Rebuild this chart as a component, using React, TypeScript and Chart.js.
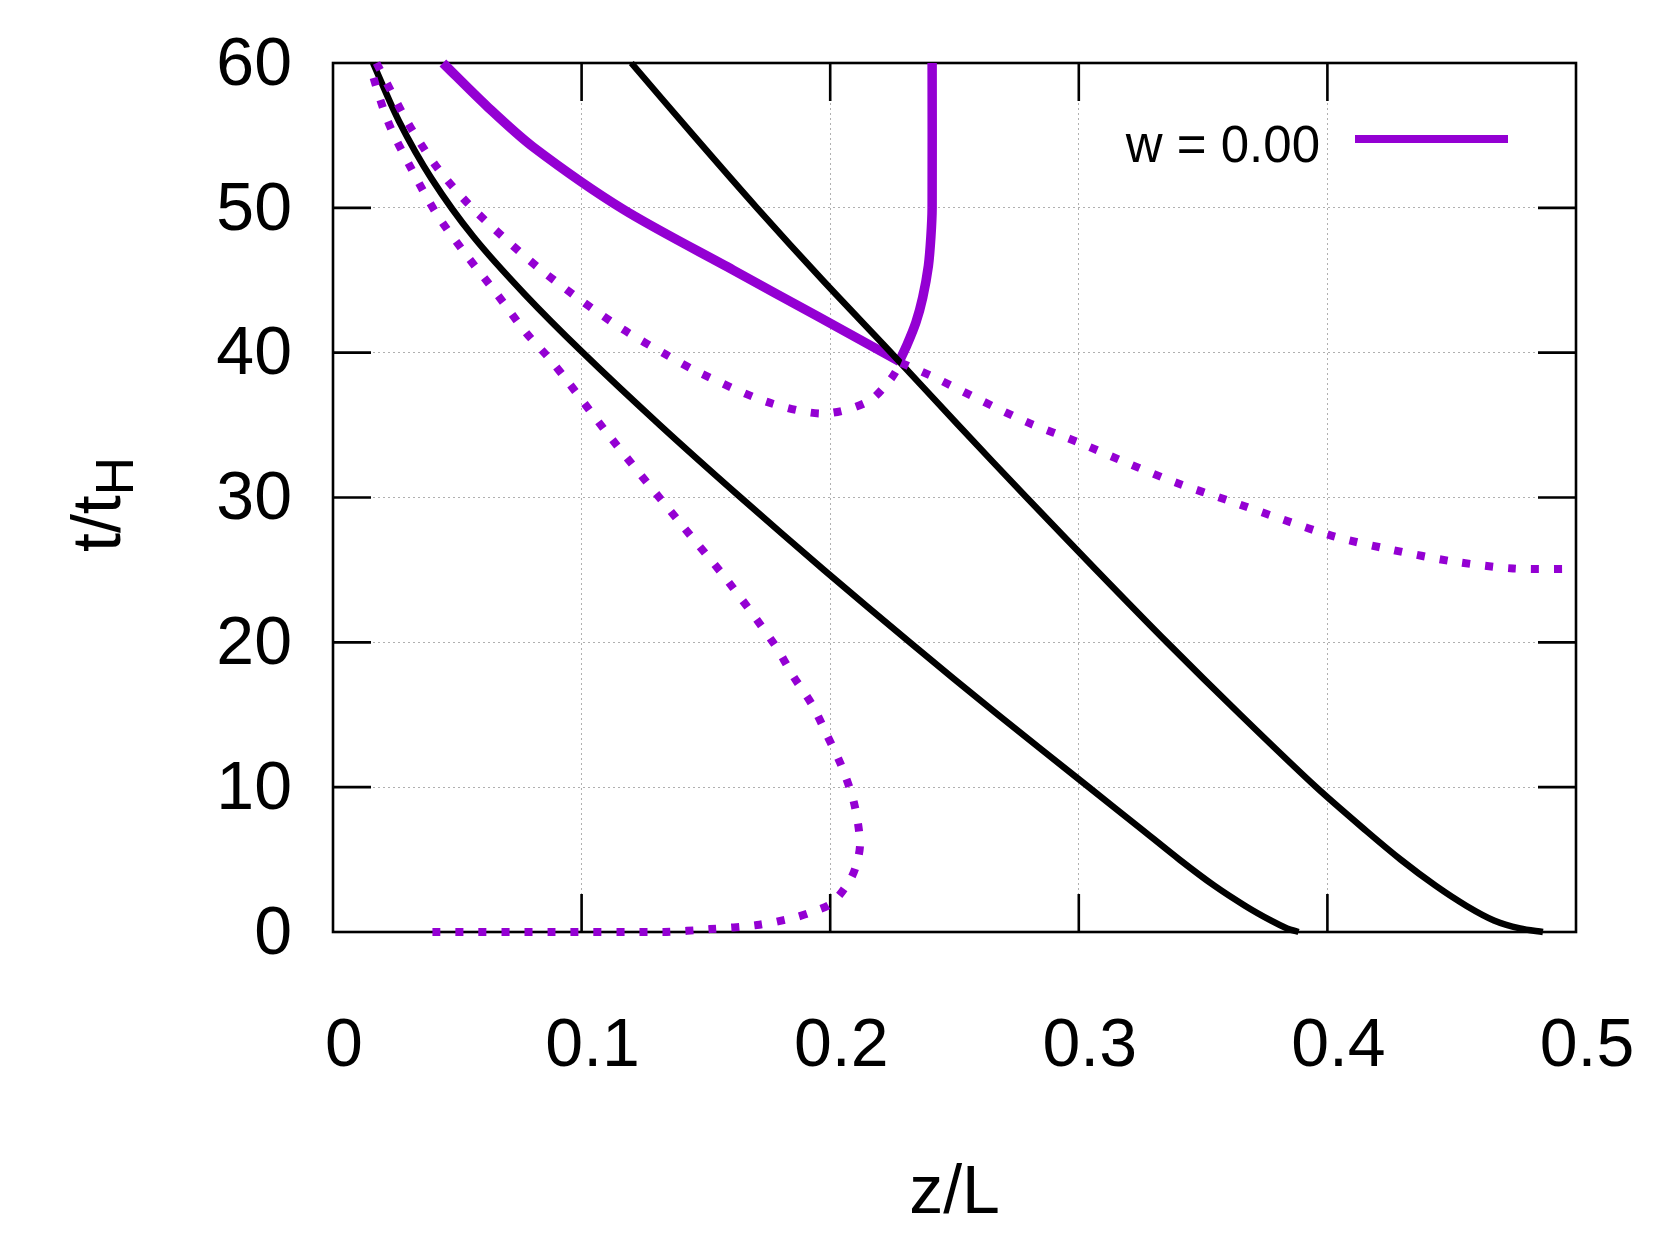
import React, { useEffect, useRef } from 'react';
import { Chart, registerables } from 'chart.js';

Chart.register(...registerables);

const PURPLE = '#9400d3';
const FONT = '"Liberation Sans", Arial, sans-serif';

// axis ticks
const xTicks = [0, 0.1, 0.2, 0.3, 0.4, 0.5];
const xTickLabels = ['0', '0.1', '0.2', '0.3', '0.4', '0.5'];
const yTicks = [0, 10, 20, 30, 40, 50, 60];
const yTickLabels = ['0', '10', '20', '30', '40', '50', '60'];

// black solid curve (left)
const blackA_z = [0.0161, 0.0265, 0.0397, 0.0565, 0.0773, 0.1005, 0.1315, 0.164, 0.1975, 0.232, 0.2675, 0.304, 0.3245, 0.3405, 0.3545, 0.367, 0.3772, 0.3838, 0.3884];
const blackA_t = [60, 56, 52, 48, 44, 40, 35, 30, 25, 20, 15, 10, 7.2, 5, 3.2, 1.8, 0.8, 0.25, 0];

// black solid curve (right)
const blackB_z = [0.120, 0.145, 0.1705, 0.197, 0.2245, 0.2515, 0.279, 0.307, 0.3355, 0.365, 0.3955, 0.4155, 0.4295, 0.4435, 0.456, 0.467, 0.4775, 0.4867];
const blackB_t = [60, 55, 50, 45, 40, 35, 30, 25, 20, 15, 10, 7, 5, 3.2, 1.8, 0.8, 0.25, 0];

// purple thick solid curve w = 0.00
const wSolid_z = [0.0442, 0.062, 0.0805, 0.1167, 0.161, 0.195, 0.2278];
const wSolid_t = [60, 57, 54.2, 49.9, 45.7, 42.5, 39.4];
const wVert_z = [0.2278, 0.2308, 0.2345, 0.2372, 0.2395, 0.2405, 0.241, 0.241];
const wVert_t = [39.4, 40.5, 42.1, 43.8, 46, 48, 50, 60];

// purple dotted curve (left loop)
const dotA_z = [0.040, 0.090, 0.133, 0.1517, 0.1706, 0.185, 0.193, 0.2007, 0.208, 0.2108, 0.212, 0.2096, 0.2047, 0.1987, 0.1927, 0.185, 0.1778, 0.1585, 0.1408, 0.1114, 0.094, 0.0865, 0.0778, 0.0657, 0.0536, 0.0416, 0.0315, 0.0221, 0.0148];
const dotA_t = [0, 0, 0, 0.2, 0.48, 0.97, 1.4, 2.0, 3.6, 4.8, 6.2, 8.9, 11.4, 13.6, 15.7, 17.7, 19.8, 24.3, 28, 34.2, 38.1, 39.7, 41.35, 44.1, 46.75, 49.6, 52.7, 55.96, 59.8];

// purple dotted curve (upper, down to minimum and up to the cusp)
const dotB_z = [0.0175, 0.0302, 0.0416, 0.0543, 0.069, 0.0838, 0.0999, 0.1167, 0.1341, 0.1476, 0.1746, 0.197, 0.215, 0.224, 0.2285];
const dotB_t = [60, 55.85, 52.85, 50.3, 47.9, 45.7, 43.6, 41.6, 39.85, 38.6, 36.6, 35.8, 36.6, 38.1, 39.3];

// purple dotted curve (from the cusp to the right)
const dotC_z = [0.2285, 0.2418, 0.2607, 0.2792, 0.300, 0.3206, 0.3395, 0.360, 0.3817, 0.403, 0.4256, 0.450, 0.4747, 0.4988, 0.5];
const dotC_t = [39.3, 38.3, 36.7, 35.2, 33.8, 32.3, 31.0, 29.8, 28.5, 27.3, 26.4, 25.6, 25.1, 25.07, 25.07];

const legendLabel = 'w = 0.00';
const xTitle = 'z/L';
const yTitleMain = 't/t';
const yTitleSub = 'H';

const pts = (z: number[], t: number[]) => z.map((v, i) => ({ x: v, y: t[i] }));

const framePlugin = {
  id: 'frame',
  beforeDatasetsDraw(chart: any) {
    const { ctx, chartArea, scales } = chart;
    const { left, right, top, bottom } = chartArea;
    const x = scales.x;
    const y = scales.y;
    ctx.save();
    ctx.strokeStyle = '#000';
    ctx.lineWidth = 2.6;
    ctx.lineCap = 'butt';
    ctx.strokeRect(left, top, right - left, bottom - top);
    const L = 38;
    ctx.beginPath();
    xTicks.slice(1, -1).forEach((v) => {
      const px = x.getPixelForValue(v);
      ctx.moveTo(px, bottom);
      ctx.lineTo(px, bottom - L);
      ctx.moveTo(px, top);
      ctx.lineTo(px, top + L);
    });
    yTicks.slice(1, -1).forEach((v) => {
      const py = y.getPixelForValue(v);
      ctx.moveTo(left, py);
      ctx.lineTo(left + L, py);
      ctx.moveTo(right, py);
      ctx.lineTo(right - L, py);
    });
    ctx.stroke();
    ctx.restore();
  },
  afterDraw(chart: any) {
    const { ctx, chartArea } = chart;
    const { left, right } = chartArea;
    ctx.save();
    ctx.fillStyle = '#000';
    // x title
    ctx.font = `68px ${FONT}`;
    ctx.textAlign = 'center';
    ctx.textBaseline = 'alphabetic';
    ctx.fillText(xTitle, (left + right) / 2, 1213);
    // y title with subscript
    ctx.save();
    ctx.translate(120, 552);
    ctx.rotate(-Math.PI / 2);
    ctx.textAlign = 'left';
    ctx.font = `68px ${FONT}`;
    ctx.fillText(yTitleMain, 0, 0);
    const w = ctx.measureText(yTitleMain).width;
    ctx.font = `53px ${FONT}`;
    ctx.fillText(yTitleSub, w, 13);
    ctx.restore();
    // legend
    ctx.font = `51px ${FONT}`;
    ctx.textAlign = 'right';
    ctx.textBaseline = 'alphabetic';
    ctx.fillText(legendLabel, 1320, 161.5);
    ctx.strokeStyle = PURPLE;
    ctx.lineWidth = 8;
    ctx.lineCap = 'butt';
    ctx.beginPath();
    ctx.moveTo(1355, 139);
    ctx.lineTo(1508, 139);
    ctx.stroke();
    ctx.restore();
  },
};

const zeroPad = (s: any) => {
  s.paddingTop = 0;
  s.paddingBottom = 0;
  s.paddingLeft = 0;
  s.paddingRight = 0;
};

export default function App() {
  const ref = useRef<HTMLCanvasElement | null>(null);

  useEffect(() => {
    if (!ref.current) return;
    const solidBlack = { borderColor: '#000', borderWidth: 6.5, pointRadius: 0, showLine: true, tension: 0.3, clip: false, fill: false };
    const solidPurple = { borderColor: PURPLE, borderWidth: 9.5, pointRadius: 0, showLine: true, tension: 0.3, clip: false, fill: false };
    const dotPurple = { borderColor: PURPLE, borderWidth: 8, borderDash: [8, 15], borderCapStyle: 'butt', pointRadius: 0, showLine: true, tension: 0.3, clip: false, fill: false };

    const chart = new Chart(ref.current, {
      type: 'scatter',
      data: {
        datasets: [
          { ...dotPurple, label: 'dotted A', data: pts(dotA_z, dotA_t) },
          { ...dotPurple, label: 'dotted B', data: pts(dotB_z, dotB_t) },
          { ...dotPurple, label: 'dotted C', data: pts(dotC_z, dotC_t) },
          { ...solidBlack, label: 'black A', data: pts(blackA_z, blackA_t) },
          { ...solidBlack, label: 'black B', data: pts(blackB_z, blackB_t) },
          { ...solidPurple, label: legendLabel, data: pts(wSolid_z, wSolid_t) },
          { ...solidPurple, label: legendLabel + ' (b)', data: pts(wVert_z, wVert_t), tension: 0.2 },
        ] as any,
      },
      options: {
        animation: false,
        responsive: false,
        maintainAspectRatio: false,
        layout: { padding: { left: 0, top: 63, right: 85, bottom: 0 } },
        plugins: { legend: { display: false }, tooltip: { enabled: false }, title: { display: false } },
        scales: {
          x: {
            type: 'linear',
            min: 0,
            max: 0.5,
            afterFit: (s: any) => { s.height = 314; zeroPad(s); },
            afterBuildTicks: (s: any) => { s.ticks = xTicks.map((v) => ({ value: v })); },
            grid: { color: '#b0b0b0', lineWidth: 1, drawTicks: false },
            border: { display: false, dash: [2, 3] },
            ticks: {
              color: '#000',
              font: { size: 68, family: FONT },
              padding: 74,
              labelOffset: 11,
              maxRotation: 0,
              autoSkip: false,
              callback: (v: any) => {
                const i = xTicks.findIndex((t) => Math.abs(t - Number(v)) < 1e-9);
                return i >= 0 ? xTickLabels[i] : '';
              },
            },
          },
          y: {
            type: 'linear',
            min: 0,
            max: 60,
            afterFit: (s: any) => { s.width = 333; zeroPad(s); },
            afterBuildTicks: (s: any) => { s.ticks = yTicks.map((v) => ({ value: v })); },
            grid: { color: '#b0b0b0', lineWidth: 1, drawTicks: false },
            border: { display: false, dash: [2, 3] },
            ticks: {
              color: '#000',
              font: { size: 68, family: FONT },
              padding: 41,
              labelOffset: 3,
              autoSkip: false,
              callback: (v: any) => {
                const i = yTicks.findIndex((t) => Math.abs(t - Number(v)) < 1e-9);
                return i >= 0 ? yTickLabels[i] : '';
              },
            },
          },
        },
      } as any,
      plugins: [framePlugin],
    });
    return () => chart.destroy();
  }, []);

  return (
    <div style={{ position: 'absolute', left: 0, top: 0, width: 1661, height: 1246, background: '#fff' }}>
      <canvas ref={ref} width={1661} height={1246} style={{ width: 1661, height: 1246, display: 'block' }} />
    </div>
  );
}
